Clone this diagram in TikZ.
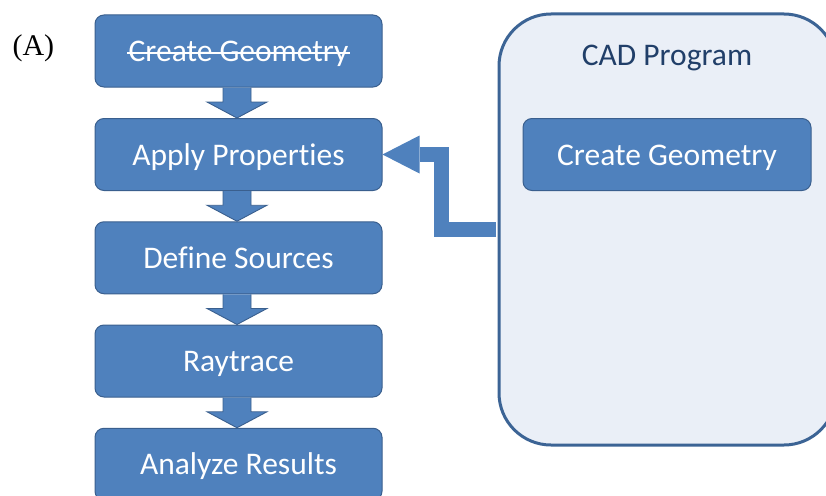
\documentclass[tikz,border=0pt]{standalone}
\usepackage{fontspec}
\setmainfont{Carlito}[Ligatures=NoCommon]
\newfontfamily\serifA{Liberation Serif}
\usetikzlibrary{calc,arrows.meta}

\definecolor{boxblue}{HTML}{4F81BD}
\definecolor{boxedge}{HTML}{3A5F8E}
\definecolor{panelfill}{HTML}{EAEFF7}
\definecolor{paneledge}{HTML}{3C6495}
\definecolor{paneltext}{HTML}{213F69}

% block arrow pointing down from one step box to the next
\newcommand{\flowstep}[2]{%
  \draw[flowarrow] let \p1=(#1.south), \p2=(#2.north) in
    (\x1-15.5pt,\y1) -- (\x1-15.5pt,\y2+16pt) -- (\x1-31.5pt,\y2+16pt)
    -- (\x1-1.5pt,\y2) -- (\x1+28.5pt,\y2+16pt) -- (\x1+12.5pt,\y2+16pt)
    -- (\x1+12.5pt,\y1);}

\begin{document}
\begin{tikzpicture}[x=1pt,y=-1pt,
  font=\fontsize{31.5}{37}\selectfont,
  stepbox/.style={rectangle, rounded corners=9pt, fill=boxblue, draw=boxedge,
    line width=1pt, text=white, minimum width=287pt, minimum height=72pt,
    inner sep=0pt, text height=21pt, text depth=0pt},
  panel/.style={rectangle, rounded corners=52pt, fill=panelfill, draw=paneledge,
    line width=3pt, minimum width=337pt, minimum height=431pt, inner sep=0pt},
  flowarrow/.style={fill=boxblue, draw=boxedge, line width=0.9pt},
  feed/.style={draw=boxblue, line width=15pt,
    -{Triangle[length=37pt, width=38pt, line width=0pt]}}]

\useasboundingbox (0,0) rectangle (826,495);
\clip (0,0) rectangle (826,495);

% panel label
\node[font=\serifA\fontsize{30}{34}\selectfont, anchor=base west] (tag) at (9,56) {(A)};

% workflow steps
\node[stepbox] (geo) at (238.5,51) {};
\node[text=white, anchor=base, inner sep=0pt] (geotext) at ($(geo.center)+(0,10.5)$) {Create Geometry};
\draw[white, line width=1.8pt] ($(geotext.base west)+(-1,-8.5)$) -- ($(geotext.base east)+(1,-8.5)$);
\node[stepbox] (props) at (238.5,154.5) {Apply Properties};
\node[stepbox] (sources) at (238.5,257.75) {Define Sources};
\node[stepbox] (ray) at (238.5,361) {Raytrace};
\node[stepbox] (analyze) at (238.5,464.25) {Analyze Results};

\flowstep{geo}{props}
\flowstep{props}{sources}
\flowstep{sources}{ray}
\flowstep{ray}{analyze}

% external CAD program
\node[panel] (cad) at (667.5,229.5) {};
\node[text=paneltext, anchor=base] (cadtitle) at (667,65) {CAD Program};
\node[stepbox, minimum width=288pt] (cadgeo) at (667,154.5) {Create Geometry};

% geometry imported from the CAD program
\coordinate (bend) at ($(props.east)+(58.5,0)$);
\draw[feed] ($(cad.west)+(-1.5,0)$) -| (bend) -- (props.east);

\end{tikzpicture}
\end{document}
